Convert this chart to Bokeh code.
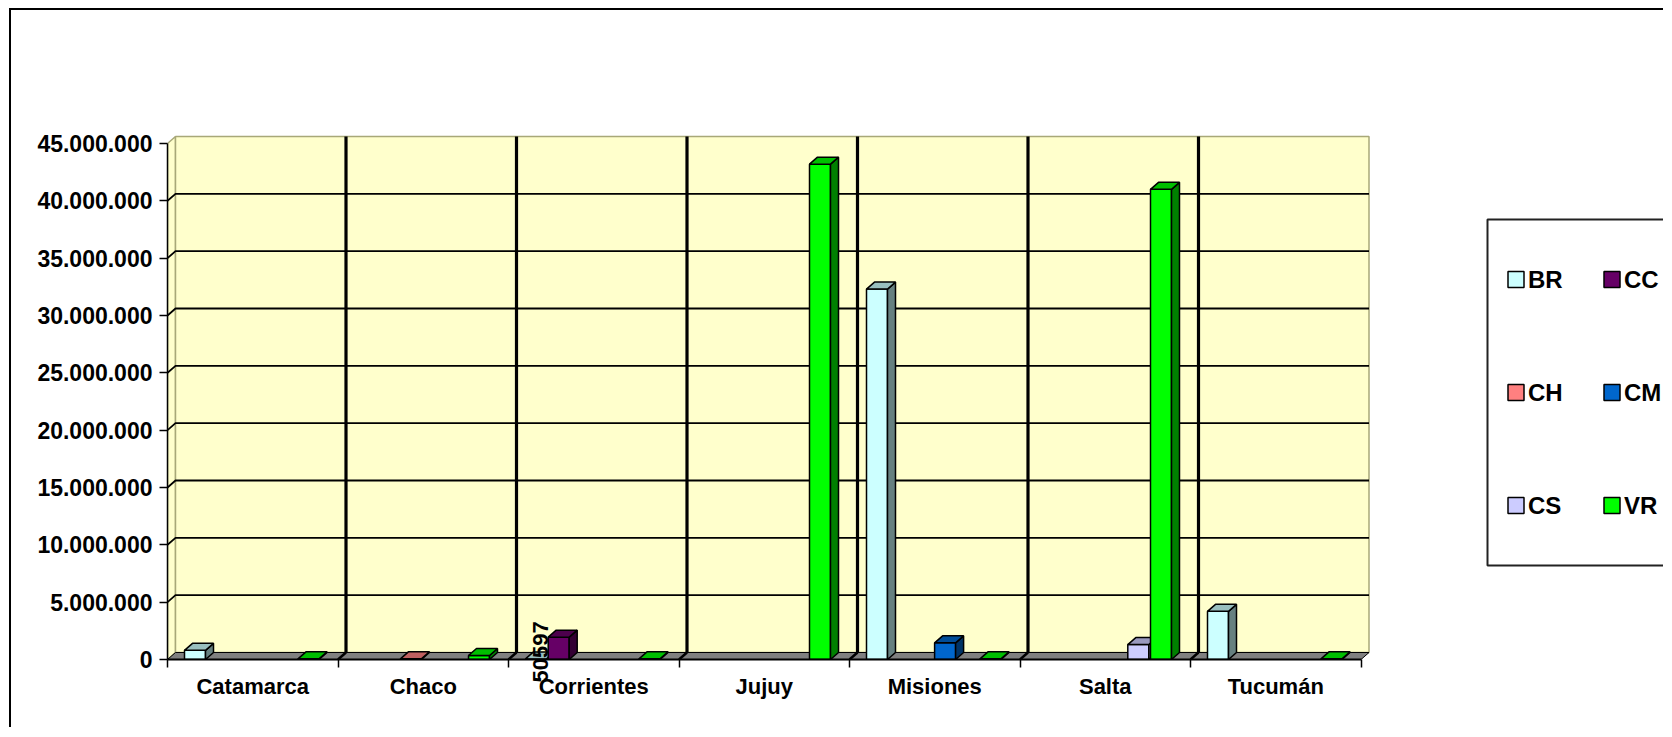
from bokeh.plotting import figure
from bokeh.models import Range1d, FixedTicker, CustomJSTickFormatter, ColumnDataSource
from bokeh.core.properties import value
from bokeh.embed import file_html
from bokeh.resources import INLINE
import math

# ---------------- data ----------------
categories = ["Catamarca", "Chaco", "Corrientes", "Jujuy", "Misiones", "Salta", "Tucumán"]
series = ["BR", "CC", "CH", "CM", "CS", "VR"]
BR = [800000, 0, 50597, 0, 32300000, 0, 4200000]
CC = [0, 0, 1950000, 0, 0, 0, 0]
CH = [0, 60000, 0, 0, 0, 0, 0]
CM = [0, 0, 0, 0, 1450000, 0, 0]
CS = [0, 0, 0, 0, 0, 1300000, 0]
VR = [60000, 350000, 60000, 43200000, 60000, 41000000, 60000]
y_ticks = [0, 5000000, 10000000, 15000000, 20000000, 25000000, 30000000, 35000000, 40000000, 45000000]
labelled = [("BR", 2)]  # data label shown: series, category index

values = {"BR": BR, "CC": CC, "CH": CH, "CM": CM, "CS": CS, "VR": VR}

# ---------------- styles ----------------
front_c = {"BR": "#CCFFFF", "CC": "#660066", "CH": "#FF8080", "CM": "#0066CC", "CS": "#CCCCFF", "VR": "#00FF00"}
top_c = {"BR": "#99BFBF", "CC": "#4D004D", "CH": "#BF6060", "CM": "#004D99", "CS": "#9999BF", "VR": "#00BF00"}
side_c = {"BR": "#668080", "CC": "#330033", "CH": "#804040", "CM": "#003366", "CS": "#666680", "VR": "#008000"}
FONT = value("Liberation Sans")

# page-pixel geometry (used for layout only)
PX0, PXU = 167.0, 170.5          # page x of category 0, px per category
PY0, PYU = 659.0, 11.467         # page y of value 0, px per 1e6
ML, MT, B = 9, 8, 2              # css margin and border
OX, OY = ML + B, MT + B          # page position of figure content
W, H = 1654, 719

def xd(px):
    return (px - PX0) / PXU

def yd(py):
    return (PY0 - py) / PYU * 1e6

DX = 8.0 / PXU
DY = 7.0 / PYU * 1e6
NCAT = len(categories)
SLOT = 22.7 / PXU
MARG = 17.0 / PXU
BW = 21.0 / PXU
YTOP = y_ticks[-1]

p = figure(width=W, height=H, output_backend="svg", toolbar_location=None,
           x_range=Range1d(0, (OX + W - PX0) / PXU), y_range=Range1d(0, (PY0 - OY) / PYU * 1e6),
           min_border_left=int(PX0 - OX), min_border_right=0, min_border_top=0,
           min_border_bottom=int(H - (PY0 - OY)))
p.margin = (MT, 0, 0, ML)
p.styles = {"border-left": "2px solid black", "border-top": "2px solid black"}
p.outline_line_color = None
p.xgrid.visible = False
p.ygrid.visible = False
p.background_fill_color = "white"
p.border_fill_color = "white"

# ---------------- walls ----------------
wall_col = "#FFFFCC"
edge_col = "#A8A878"
p.patch([0, DX, DX, 0], [0, DY, YTOP + DY, YTOP], fill_color=wall_col, line_color=edge_col, line_width=1.5)
p.patch([DX, NCAT + DX, NCAT + DX, DX], [DY, DY, YTOP + DY, YTOP + DY], fill_color=wall_col,
        line_color=edge_col, line_width=1.5)
p.patch([0, NCAT, NCAT + DX, DX], [0, 0, DY, DY], fill_color="#808080", line_color="black", line_width=1)

# gridlines
gx, gy = [], []
for t in y_ticks[1:-1]:
    gx.append([0, DX, NCAT + DX])
    gy.append([t, t + DY, t + DY])
p.multi_line(gx, gy, line_color="black", line_width=1.8)

# category separators on back wall and floor
sx, sy = [], []
for k in range(1, NCAT):
    sx.append([k + DX, k + DX])
    sy.append([DY, YTOP + DY])
p.multi_line(sx, sy, line_color="black", line_width=3.2)
fx, fy = [], []
for k in range(1, NCAT):
    fx.append([k, k + DX])
    fy.append([0, DY])
p.multi_line(fx, fy, line_color="black", line_width=2.5)

# ---------------- bars (3D) ----------------
xs, ys, cols = [], [], []
for i in range(NCAT):
    for j, s in enumerate(series):
        v = values[s][i]
        if v <= 0:
            continue
        x0 = i + MARG + j * SLOT
        x1 = x0 + BW
        xs.append([x0, x1, x1, x0]); ys.append([0, 0, v, v]); cols.append(front_c[s])
        xs.append([x1, x1 + DX, x1 + DX, x1]); ys.append([0, DY, v + DY, v]); cols.append(side_c[s])
        xs.append([x0, x1, x1 + DX, x0 + DX]); ys.append([v, v, v + DY, v + DY]); cols.append(top_c[s])
src = ColumnDataSource(dict(xs=xs, ys=ys, c=cols))
p.patches("xs", "ys", source=src, fill_color="c", line_color="black", line_width=1.5)

# data label (overlay level, so it can run past the floor)
lbx, lby, lbt = [], [], []
for s, i in labelled:
    j = series.index(s)
    v = values[s][i]
    lbx.append(i + MARG + j * SLOT + BW / 2 + DX / 2)
    lby.append(v + DY)
    lbt.append(str(v))
p.text(x=lbx, y=lby, text=lbt, angle=math.pi / 2, text_align="center", text_baseline="middle",
       text_font=FONT, text_font_style="bold", text_font_size="22px", text_color="black",
       level="overlay")

# ---------------- axes ----------------
ya = p.yaxis[0]
ya.ticker = FixedTicker(ticks=y_ticks, minor_ticks=[])
ya.formatter = CustomJSTickFormatter(code="""
return Math.round(tick).toString().replace(/\\B(?=(\\d{3})+(?!\\d))/g, ".");
""")
ya.bounds = (0, YTOP)
ya.axis_line_color = "black"
ya.axis_line_width = 1.5
ya.major_tick_out = 8
ya.major_tick_in = 0
ya.major_tick_line_width = 1.5
ya.minor_tick_line_color = None
ya.major_label_standoff = 7
ya.major_label_text_font = "Liberation Sans"
ya.major_label_text_font_style = "bold"
ya.major_label_text_font_size = "23px"
ya.major_label_text_color = "black"

xa = p.xaxis[0]
centers = [k + 0.5 for k in range(NCAT)]
xa.ticker = FixedTicker(ticks=centers, minor_ticks=list(range(NCAT + 1)))
xa.major_label_overrides = {c: n for c, n in zip(centers, categories)}
xa.bounds = (0, NCAT)
xa.axis_line_color = "black"
xa.axis_line_width = 2
xa.major_tick_line_color = None
xa.major_tick_out = 0
xa.major_tick_in = 0
xa.minor_tick_out = 8
xa.minor_tick_in = 0
xa.minor_tick_line_width = 1.5
xa.minor_tick_line_color = "black"
xa.major_label_standoff = 6
xa.major_label_text_font = "Liberation Sans"
xa.major_label_text_font_style = "bold"
xa.major_label_text_font_size = "22px"
xa.major_label_text_color = "black"

# ---------------- legend (drawn) ----------------
p.quad(left=[xd(1487)], right=[xd(1760)], bottom=[yd(565)], top=[yd(219)],
       fill_color="white", line_color="#222222", line_width=2)
leg_cols_px = [1515.5, 1611.5]
leg_rows_px = [279, 392, 505]
lx, ly, lc, tx, ty, tt = [], [], [], [], [], []
for n, s in enumerate(series):
    r, c = divmod(n, 2)
    lx.append(xd(leg_cols_px[c])); ly.append(yd(leg_rows_px[r])); lc.append(front_c[s])
    tx.append(xd(leg_cols_px[c] + 12)); ty.append(yd(leg_rows_px[r])); tt.append(s)
p.rect(x=lx, y=ly, width=16, height=16, width_units="screen", height_units="screen",
       fill_color=lc, line_color="black", line_width=1.5)
p.text(x=tx, y=ty, text=tt, text_align="left", text_baseline="middle", text_font=FONT,
       text_font_style="bold", text_font_size="24px", text_color="black")

open("out.html", "w").write(file_html(p, INLINE))
